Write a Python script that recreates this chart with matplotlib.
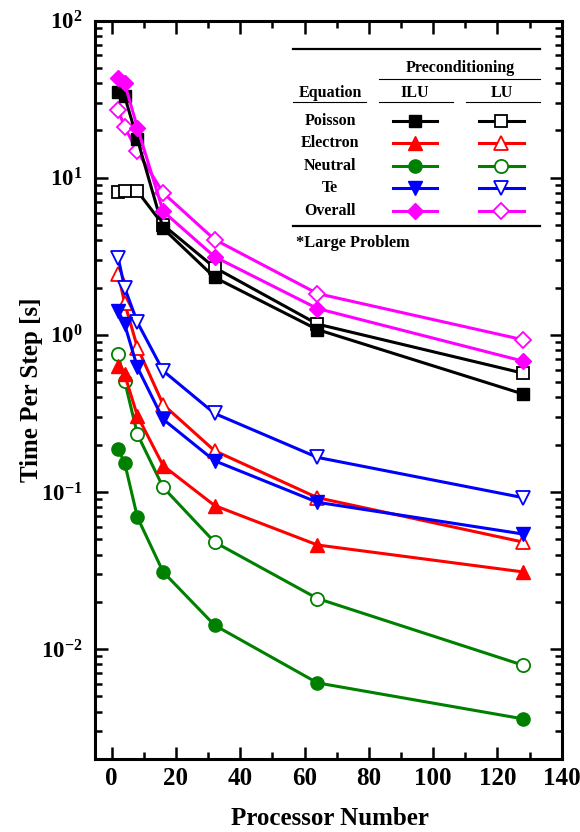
import math
import matplotlib
matplotlib.use("Agg")
import matplotlib.pyplot as plt
from matplotlib.ticker import FixedLocator, FuncFormatter, LogLocator, NullFormatter, MultipleLocator
from matplotlib.lines import Line2D

plt.rcParams['font.family'] = ['Liberation Serif', 'DejaVu Serif']
plt.rcParams['font.weight'] = 'bold'
plt.rcParams['mathtext.fontset'] = 'custom'
plt.rcParams['mathtext.rm'] = 'Liberation Serif:bold'
plt.rcParams['mathtext.bf'] = 'Liberation Serif:bold'
plt.rcParams['mathtext.it'] = 'Liberation Serif:bold:italic'

# Processor counts
procs = [2, 4, 8, 16, 32, 64, 128]

# Time per step [s], ILU preconditioner
poisson_ilu = [35, 33, 17.5, 4.75, 2.32, 1.08, 0.42]
electron_ilu = [0.63, 0.56, 0.305, 0.147, 0.082, 0.046, 0.031]
neutral_ilu = [0.187, 0.154, 0.069, 0.031, 0.0142, 0.0061, 0.0036]
te_ilu = [1.42, 1.17, 0.62, 0.29, 0.158, 0.086, 0.054]
overall_ilu = [43, 40, 20.8, 6.1, 3.14, 1.47, 0.68]

# Time per step [s], LU preconditioner
poisson_lu = [8.1, 8.2, 8.2, 5.0, 2.68, 1.17, 0.57]
electron_lu = [2.45, 1.6, 0.83, 0.36, 0.183, 0.092, 0.048]
neutral_lu = [0.75, 0.51, 0.233, 0.107, 0.048, 0.021, 0.0079]
te_lu = [3.1, 2.0, 1.2, 0.59, 0.316, 0.166, 0.092]
overall_lu = [27, 21, 14.7, 8.0, 4.04, 1.83, 0.93]

equations = ['Poisson', 'Electron', 'Neutral', 'Te', 'Overall']
colors = ['black', 'red', 'green', 'blue', 'magenta']
markers = ['s', '^', 'o', 'v', 'D']
ilu_series = [poisson_ilu, electron_ilu, neutral_ilu, te_ilu, overall_ilu]
lu_series = [poisson_lu, electron_lu, neutral_lu, te_lu, overall_lu]

W, H = 580, 832
fig = plt.figure(figsize=(W / 100, H / 100), dpi=100)
ax_l, ax_r, ax_t, ax_b = 95, 561.7, 20.5, 759
ax_w, ax_h = ax_r - ax_l, ax_b - ax_t
ax = fig.add_axes([ax_l / W, 1 - ax_b / H, ax_w / W, ax_h / H])

lw = 2.2
msize = {'s': 9, '^': 10, 'o': 9.5, 'v': 10, 'D': 8.5}

for vals, c, m in zip(lu_series, colors, markers):
    ax.plot(procs, vals, color=c, lw=lw, marker=m, ms=msize[m],
            mfc='white', mec=c, mew=1.3, zorder=2)
for vals, c, m in zip(ilu_series, colors, markers):
    ax.plot(procs, vals, color=c, lw=lw, marker=m, ms=msize[m],
            mfc=c, mec=c, mew=1.0, zorder=3)

ax.set_yscale('log')
ax.set_xlim(-5.2, 140)
ax.set_ylim(0.002, 100)

ax.xaxis.set_major_locator(FixedLocator([0, 20, 40, 60, 80, 100, 120, 140]))
ax.xaxis.set_minor_locator(MultipleLocator(10))
ax.yaxis.set_major_locator(FixedLocator([0.01, 0.1, 1, 10, 100]))
ax.yaxis.set_minor_locator(LogLocator(base=10, subs=range(2, 10), numticks=20))
ax.yaxis.set_minor_formatter(NullFormatter())


def pow_label(v, pos):
    e = int(round(math.log10(v)))
    return r'$\mathbf{10^{%d}}$' % e


ax.yaxis.set_major_formatter(FuncFormatter(pow_label))

ax.tick_params(which='both', direction='in', top=True, right=True, width=1.8)
ax.tick_params(axis='x', which='major', length=9, labelsize=18, pad=6)
ax.tick_params(axis='y', which='major', length=9, labelsize=16.5, pad=9)
ax.tick_params(which='minor', length=5)
for s in ax.spines.values():
    s.set_linewidth(2.2)
for lab in ax.get_xticklabels() + ax.get_yticklabels():
    lab.set_fontweight('bold')

ax.set_xlabel('Processor Number', fontsize=18, fontweight='bold')
ax.set_ylabel('Time Per Step [s]', fontsize=18, fontweight='bold')
ax.xaxis.set_label_coords((330 - ax_l) / ax_w, (ax_b - 807) / ax_h)
ax.yaxis.set_label_coords((43 - ax_l) / ax_w, (ax_b - 390) / ax_h)


# Legend table drawn in figure pixel coordinates
def fx(px):
    return px / W


def fy(py):
    return 1 - py / H


def hline(x0, x1, y, w):
    fig.add_artist(Line2D([fx(x0), fx(x1)], [fy(y), fy(y)], color='black', lw=w,
                          transform=fig.transFigure))


hline(292.7, 540, 49.3, 1.6)
hline(379, 540, 79.3, 0.8)
hline(292.7, 366, 102.3, 0.8)
hline(379, 452.7, 102.3, 0.8)
hline(466, 540, 102.3, 0.8)
hline(292.7, 540, 225.7, 1.6)

tkw = dict(ha='center', va='center', fontsize=11.5, fontweight='bold',
           transform=fig.transFigure)
fig.text(fx(460), fy(68.3), 'Preconditioning', **tkw)
fig.text(fx(330), fy(93.3), 'Equation', **tkw)
fig.text(fx(415), fy(93.3), 'ILU', **tkw)
fig.text(fx(502), fy(93.3), 'LU', **tkw)

row_y = [121, 143.3, 166, 188.3, 210.7]
for name, c, m, y in zip(equations, colors, markers, row_y):
    fig.text(fx(330), fy(y), name, **tkw)
    fig.add_artist(Line2D([fx(393.3), fx(436.7)], [fy(y), fy(y)], color=c, lw=lw,
                          transform=fig.transFigure))
    fig.add_artist(Line2D([fx(415)], [fy(y)], color=c, marker=m, ms=msize[m],
                          mfc=c, mec=c, transform=fig.transFigure))
    fig.add_artist(Line2D([fx(479), fx(524)], [fy(y), fy(y)], color=c, lw=lw,
                          transform=fig.transFigure))
    fig.add_artist(Line2D([fx(501)], [fy(y)], color=c, marker=m, ms=msize[m],
                          mfc='white', mec=c, mew=1.3, transform=fig.transFigure))

fig.text(fx(296), fy(242.7), '*Large Problem', ha='left', va='center', fontsize=11.8,
         fontweight='bold', transform=fig.transFigure)

fig.savefig('out.png', dpi=100)
